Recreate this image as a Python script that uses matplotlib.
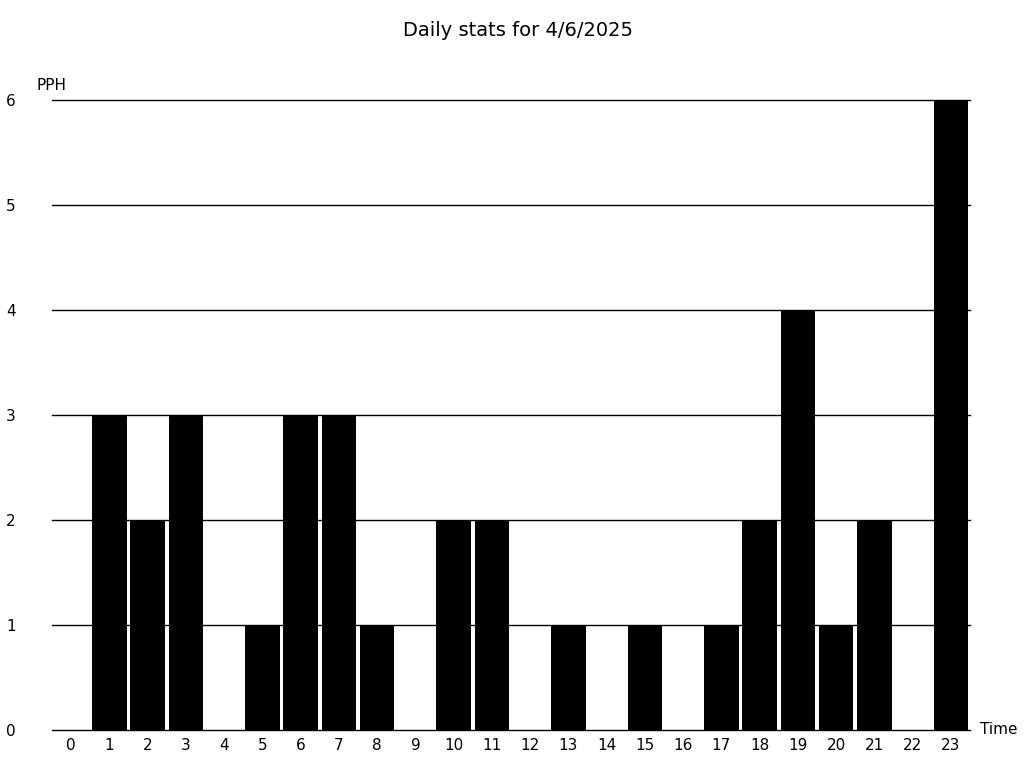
import matplotlib
matplotlib.use("Agg")
import matplotlib.pyplot as plt

hours = list(range(24))
pph = [0, 3, 2, 3, 0, 1, 3, 3, 1, 0, 2, 2, 0, 1, 0, 1, 0, 1, 2, 4, 1, 2, 0, 6]
yticks = [0, 1, 2, 3, 4, 5, 6]
title = "Daily stats for 4/6/2025"

W, H = 1024, 768
fig = plt.figure(figsize=(W / 100, H / 100), dpi=100)
ax = fig.add_axes([52 / W, (H - 730) / H, (970 - 52) / W, (730 - 100) / H])

ax.bar(hours, pph, width=0.9, color="black", zorder=3)
ax.set_xlim(-0.5, 23.5)
ax.set_ylim(0, 6)
ax.set_yticks(yticks)
ax.set_xticks(hours)
for y in yticks:
    ax.axhline(y, color="black", linewidth=1, zorder=1, clip_on=False)
for s in ax.spines.values():
    s.set_visible(False)
ax.tick_params(axis="y", length=0, pad=26, labelsize=11)
ax.tick_params(axis="x", length=0, pad=5.5, labelsize=11)

fig.text(518 / W, 1 - 30 / H, title, ha="center", va="center", fontsize=14)
fig.text(51 / W, 1 - 85 / H, "PPH", ha="center", va="center", fontsize=11)
fig.text(980 / W, 1 - 730 / H, "Time", ha="left", va="center", fontsize=11)

fig.savefig("out.png", dpi=100)
